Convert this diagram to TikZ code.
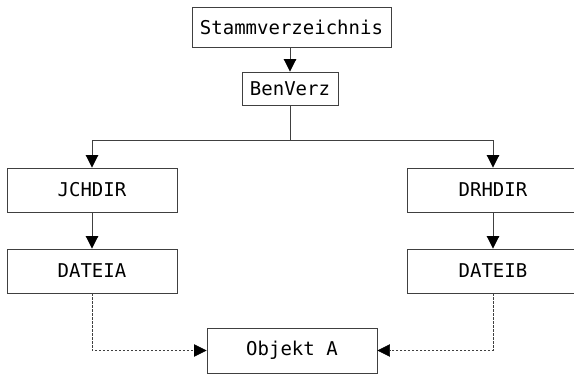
\documentclass[tikz,border=0pt]{standalone}
\usepackage{fontspec}
\setmonofont{DejaVu Sans Mono}
\usetikzlibrary{arrows.meta}

\tikzset{
  box/.style={draw=black!75, line width=0.9pt, inner sep=0pt, minimum width=170pt, minimum height=44pt,
    font=\ttfamily\fontsize{19}{22}\selectfont},
  link/.style={draw=black!75, line width=0.9pt, -{Triangle[width=12.5pt,length=12.5pt,color=black]}},
  ref/.style={link, dash pattern=on 2.5pt off 1.5pt, line width=0.7pt},
}

\begin{document}
\begin{tikzpicture}[x=1pt,y=-1pt]
  \useasboundingbox (0,0) rectangle (574,375);
  \clip (0,0) rectangle (574,375);
  \node[box, minimum width=199pt, minimum height=40pt] (stamm) at (291.5,27) {Stammverzeichnis};
  \node[box, minimum width=96pt, minimum height=33pt] (benverz) at (290,88.5) {BenVerz};
  \node[box] (jchdir) at (92,190) {JCHDIR};
  \node[box, minimum width=172pt] (drhdir) at (493,190) {DRHDIR};
  \node[box] (dateia) at (92,271) {DATEIA};
  \node[box, minimum width=172pt] (dateib) at (493,271) {DATEIB};
  \node[box, minimum height=45pt] (objekta) at (292,350.5) {Objekt A};
  \draw[link] (stamm.south -| benverz.north) -- (benverz.north);
  \draw[link] (benverz.south) -- ++(0,35) coordinate (split) -| (jchdir.north);
  \draw[link] (split) -| (drhdir.north);
  \draw[link] (jchdir) -- (dateia);
  \draw[link] (drhdir) -- (dateib);
  \draw[ref] (dateia.south) |- (objekta.west);
  \draw[ref] (dateib.south) |- (objekta.east);
\end{tikzpicture}
\end{document}
